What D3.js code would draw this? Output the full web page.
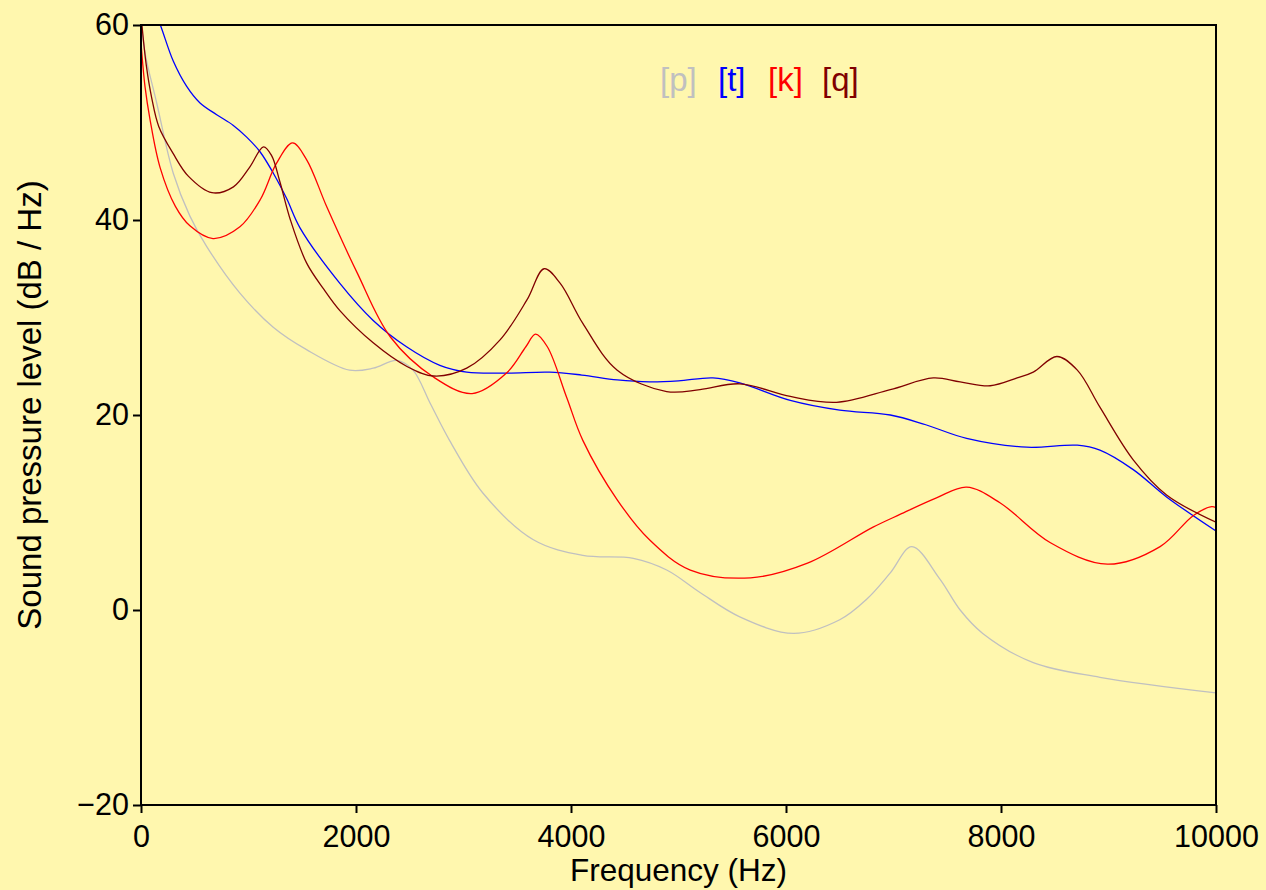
<!DOCTYPE html>
<html>
<head>
<meta charset="utf-8">
<script src="https://cdn.jsdelivr.net/npm/d3@7"></script>
<style>
  html, body { margin: 0; padding: 0; background: #fff7ae; }
  svg { display: block; font-family: "Liberation Sans", Arial, sans-serif; }
</style>
</head>
<body>
<script>
// spectra of four stop bursts, frequency in Hz and level in dB/Hz
const pFreq = [0, 40, 146, 300, 455, 610, 920, 1230, 1540, 1940, 2160, 2380, 2530, 2690, 2870, 3180, 3650, 4110, 4580, 4890, 5200, 5570, 6070, 6500, 6750, 6970, 7170, 7430, 7620, 7830, 8300, 8920, 10000];
const pDb   = [60.5, 57, 52, 44.8, 40.4, 37.3, 32.5, 29.0, 26.7, 24.6, 24.8, 25.6, 24.6, 21.2, 17.4, 12.0, 7.2, 5.6, 5.3, 4.1, 1.8, -0.7, -2.4, -1.0, 1.1, 3.8, 6.5, 3.2, 0, -2.4, -5.4, -6.9, -8.5];

const tFreq = [0, 90, 180, 300, 425, 549, 704, 859, 983, 1107, 1231, 1355, 1479, 1850, 2160, 2470, 2780, 3030, 3400, 3800, 4100, 4430, 4730, 5000, 5320, 5570, 6040, 6500, 6970, 7300, 7680, 8240, 8710, 8920, 9230, 9540, 10000];
const tDb   = [65.5, 62.5, 60, 56.3, 53.7, 52.0, 50.8, 49.7, 48.5, 47.0, 44.8, 42.2, 39.2, 33.5, 29.7, 27.0, 25.1, 24.4, 24.3, 24.4, 24.1, 23.6, 23.4, 23.5, 23.8, 23.3, 21.5, 20.5, 20.0, 19.0, 17.6, 16.7, 16.9, 16.4, 14.4, 11.6, 8.1];

const kFreq = [0, 37, 84, 177, 320, 455, 670, 920, 1110, 1260, 1410, 1540, 1730, 2010, 2320, 2720, 3080, 3400, 3580, 3670, 3780, 3960, 4110, 4430, 4730, 5110, 5670, 6200, 6810, 7060, 7400, 7680, 7990, 8460, 8990, 9480, 9790, 9960, 10000];
const kDb   = [58.2, 53.7, 50.3, 45.4, 41.4, 39.4, 38.1, 39.3, 42.1, 45.8, 47.9, 46.2, 41.3, 34.6, 28.0, 23.9, 22.2, 24.3, 27.0, 28.3, 27.0, 21.8, 17.4, 11.3, 7.2, 4.1, 3.3, 4.8, 8.5, 9.8, 11.5, 12.6, 11.0, 6.9, 4.7, 6.5, 9.7, 10.6, 10.5];

const qFreq = [0, 50, 100, 165, 300, 440, 660, 860, 1010, 1140, 1215, 1290, 1390, 1540, 1700, 1850, 2160, 2470, 2720, 3030, 3340, 3590, 3750, 3900, 4110, 4430, 4890, 5200, 5570, 6040, 6470, 6970, 7370, 7620, 7900, 8150, 8300, 8520, 8710, 8920, 9230, 9540, 10000];
const qDb   = [61, 55.8, 52.5, 49.6, 46.8, 44.5, 42.8, 43.4, 45.4, 47.5, 46.6, 44.0, 40, 35.6, 32.9, 30.7, 27.4, 25.0, 24.0, 24.8, 27.7, 31.8, 35.0, 33.5, 29.4, 24.6, 22.4, 22.6, 23.2, 21.9, 21.3, 22.6, 23.8, 23.4, 23.0, 23.8, 24.4, 26.0, 24.6, 20.8, 15.4, 11.8, 9.0];

const labels = ["[p]", "[t]", "[k]", "[q]"];
const colors = ["#c0c0c0", "#0000ff", "#ff0000", "#800000"];
const xTicks = [0, 2000, 4000, 6000, 8000, 10000];
const yTicks = [-20, 0, 20, 40, 60];

const W = 1266, H = 890;
const plotL = 141, plotR = 1216, plotT = 25, plotB = 805;

const svg = d3.select("body").append("svg")
    .attr("width", W)
    .attr("height", H);

svg.append("rect")
    .attr("width", W)
    .attr("height", H)
    .attr("fill", "#fff7ae");

const x = d3.scaleLinear().domain([0, 10000]).range([plotL, plotR]);
const y = d3.scaleLinear().domain([-20, 60]).range([plotB, plotT]);

svg.append("clipPath").attr("id", "plot")
  .append("rect")
    .attr("x", plotL).attr("y", plotT)
    .attr("width", plotR - plotL).attr("height", plotB - plotT);

const series = [
    {freq: pFreq, db: pDb},
    {freq: tFreq, db: tDb},
    {freq: kFreq, db: kDb},
    {freq: qFreq, db: qDb}
];

const line = d3.line()
    .x(d => x(d[0]))
    .y(d => y(d[1]))
    .curve(d3.curveCatmullRom.alpha(0.5));

series.forEach((s, i) => {
    svg.append("path")
        .datum(s.freq.map((f, j) => [f, s.db[j]]))
        .attr("clip-path", "url(#plot)")
        .attr("fill", "none")
        .attr("stroke", colors[i])
        .attr("stroke-width", 1.3)
        .attr("d", line);
});

// axes
const fmt = d3.format("d");
const xAxis = svg.append("g")
    .attr("transform", `translate(0,${plotB})`)
    .call(d3.axisBottom(x).tickValues(xTicks).tickFormat(fmt).tickSize(8).tickPadding(12).tickSizeOuter(0));
const yAxis = svg.append("g")
    .attr("transform", `translate(${plotL},0)`)
    .call(d3.axisLeft(y).tickValues(yTicks).tickFormat(fmt).tickSize(8).tickPadding(4).tickSizeOuter(0));

[xAxis, yAxis].forEach(a => {
    a.select(".domain").remove();
    a.selectAll(".tick line").attr("stroke", "#000").attr("stroke-width", 2);
    a.selectAll(".tick text")
        .attr("fill", "#000")
        .style("font-size", "30.5px")
        .style("font-family", "'Liberation Sans', Arial, sans-serif");
});

// frame
svg.append("rect")
    .attr("x", plotL).attr("y", plotT)
    .attr("width", plotR - plotL).attr("height", plotB - plotT)
    .attr("fill", "none")
    .attr("stroke", "#000")
    .attr("stroke-width", 2);

svg.append("text")
    .attr("x", (plotL + plotR) / 2)
    .attr("y", 881)
    .attr("text-anchor", "middle")
    .style("font-size", "31.5px")
    .text("Frequency (Hz)");

svg.append("text")
    .attr("transform", `translate(41,${(plotT + plotB) / 2 - 10}) rotate(-90)`)
    .attr("text-anchor", "middle")
    .style("font-size", "33px")
    .text("Sound pressure level (dB / Hz)");

// legend
const legendX = [660, 718, 768, 822];
labels.forEach((t, i) => {
    svg.append("text")
        .attr("x", legendX[i])
        .attr("y", 91)
        .attr("fill", colors[i])
        .style("font-size", "33px")
        .text(t);
});
</script>
</body>
</html>
